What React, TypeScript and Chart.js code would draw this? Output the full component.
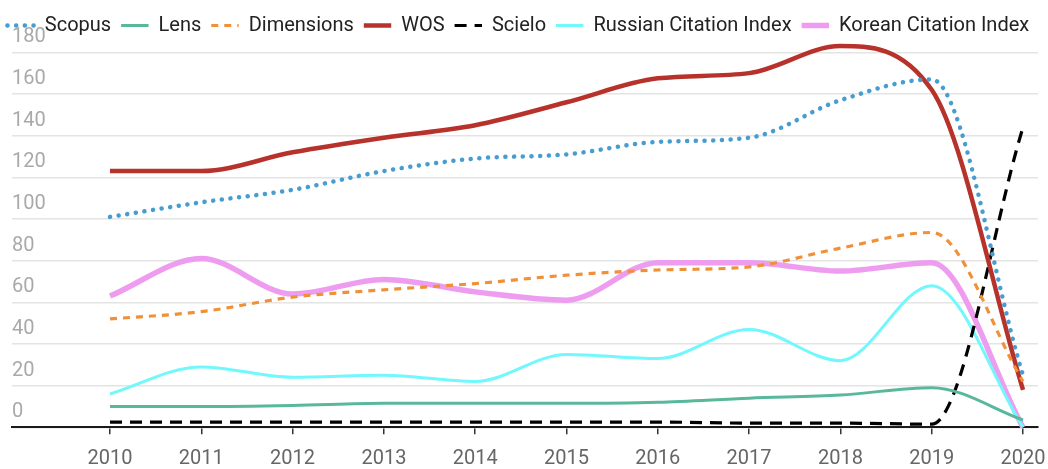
import React, { useEffect, useRef } from 'react';
import { Chart, registerables } from 'chart.js';

Chart.register(...registerables);

const years = [2010, 2011, 2012, 2013, 2014, 2015, 2016, 2017, 2018, 2019, 2020];
const scopus = [101, 108, 114, 123, 129, 131, 137, 139, 157, 167, 25];
const lens = [10, 10, 10.5, 11.5, 11.5, 11.5, 12, 14, 15.5, 19, 3.5];
const dimensions = [52, 55.5, 62.5, 66, 69, 73, 75.5, 77, 86, 93.5, 22];
const wos = [123, 123, 132, 139, 145, 156, 167.5, 170, 183, 162, 18];
const scielo = [2.5, 2.5, 2.5, 2.5, 2.5, 2.5, 2.5, 2, 2, 1.5, 144];
const russian = [16, 29, 24, 25, 22, 35, 33, 47, 32, 68, 0];
const korean = [63, 81, 64, 71, 65, 61, 79, 79, 75, 79, 0];
const yTicks = [0, 20, 40, 60, 80, 100, 120, 140, 160, 180];

const X_MIN = 2008.9266;
const X_MAX = 2020.1643;

export default function App() {
  const ref = useRef<HTMLCanvasElement>(null);

  useEffect(() => {
    Chart.defaults.font.family = 'Roboto';
    const pts = (arr: number[]) => arr.map((v, i) => ({ x: years[i], y: v }));
    const defaultGen = (Chart.defaults as any).plugins.legend.labels.generateLabels;
    const chart = new Chart(ref.current as HTMLCanvasElement, {
      type: 'line',
      data: {
        datasets: [
          { label: 'Scopus', data: pts(scopus), borderColor: '#479dd0', backgroundColor: '#479dd0', borderWidth: 4.5, borderDash: [0.1, 8.6], borderCapStyle: 'round' },
          { label: 'Lens', data: pts(lens), borderColor: '#59b79c', backgroundColor: '#59b79c', borderWidth: 3 },
          { label: 'Dimensions', data: pts(dimensions), borderColor: '#f0913a', backgroundColor: '#f0913a', borderWidth: 3.2, borderDash: [7, 6] },
          { label: 'WOS', data: pts(wos), borderColor: '#b7322a', backgroundColor: '#b7322a', borderWidth: 4.5 },
          { label: 'Scielo', data: pts(scielo), borderColor: '#000000', backgroundColor: '#000000', borderWidth: 3.2, borderDash: [12, 8] },
          { label: 'Russian Citation Index', data: pts(russian), borderColor: '#70f8fc', backgroundColor: '#70f8fc', borderWidth: 3 },
          { label: 'Korean Citation Index', data: pts(korean), borderColor: '#ee9cef', backgroundColor: '#ee9cef', borderWidth: 5.5 },
        ].map((d) => ({ ...d, clip: false })),
      } as any,
      options: {
        animation: false,
        responsive: true,
        maintainAspectRatio: false,
        layout: { padding: { top: 5.5, left: -2.6, right: 0, bottom: 0 } },
        elements: {
          point: { radius: 0, hoverRadius: 0 },
          line: { cubicInterpolationMode: 'monotone' },
        },
        plugins: {
          tooltip: { enabled: false },
          legend: {
            position: 'top',
            align: 'start',
            weight: 1000,
            labels: {
              usePointStyle: true,
              pointStyle: 'line',
              pointStyleWidth: 27.4,
              padding: 10,
              color: '#222222',
              font: { size: 20, family: 'Roboto' },
              generateLabels: (c: any) => {
                const items = defaultGen(c);
                items.forEach((it: any) => {
                  const ds = c.data.datasets[it.datasetIndex];
                  it.lineDash = ds.borderDash || [];
                  it.lineCap = ds.borderCapStyle || 'butt';
                  it.lineWidth = ds.borderWidth;
                  it.strokeStyle = ds.borderColor;
                });
                return items;
              },
            },
          },
          title: {
            display: true,
            text: '',
            position: 'top',
            weight: 500,
            font: { size: 1 },
            padding: { top: 0, bottom: 5.6 },
          },
        },
        scales: {
          x: {
            type: 'linear',
            min: X_MIN,
            max: X_MAX,
            afterBuildTicks: (s: any) => {
              s.ticks = years.map((v) => ({ value: v }));
            },
            afterFit: (s: any) => {
              s.height = 41.7;
              s.paddingLeft = 0;
              s.paddingRight = 0;
            },
            grid: { drawOnChartArea: false, drawTicks: true, tickLength: 7, color: '#333333', lineWidth: 1.5 },
            border: { display: true, color: '#1a1a1a', width: 2 },
            ticks: {
              padding: 13,
              color: '#666666',
              font: { size: 20, family: 'Roboto' },
              autoSkip: false,
              maxRotation: 0,
              callback: (v: any) => String(v),
            },
          },
          y: {
            position: 'left',
            min: yTicks[0],
            max: yTicks[yTicks.length - 1],
            afterBuildTicks: (s: any) => {
              s.ticks = yTicks.map((v) => ({ value: v }));
            },
            afterFit: (s: any) => {
              s.width = 14.6;
            },
            grid: { drawTicks: false, color: '#e4e4e4', lineWidth: 1.5 },
            border: { display: false },
            ticks: {
              mirror: true,
              padding: 0,
              labelOffset: -15,
              color: '#a9a9a9',
              font: { size: 20, family: 'Roboto' },
              callback: (v: any) => String(v),
            },
          },
          yRight: {
            position: 'right',
            afterFit: (s: any) => {
              s.width = 10;
            },
            grid: { display: false },
            ticks: { display: false },
            border: { display: false },
          },
        },
      } as any,
    });
    return () => chart.destroy();
  }, []);

  return (
    <div style={{ position: 'fixed', left: 0, top: 0, width: 1048, height: 469 }}>
      <canvas ref={ref} />
    </div>
  );
}
